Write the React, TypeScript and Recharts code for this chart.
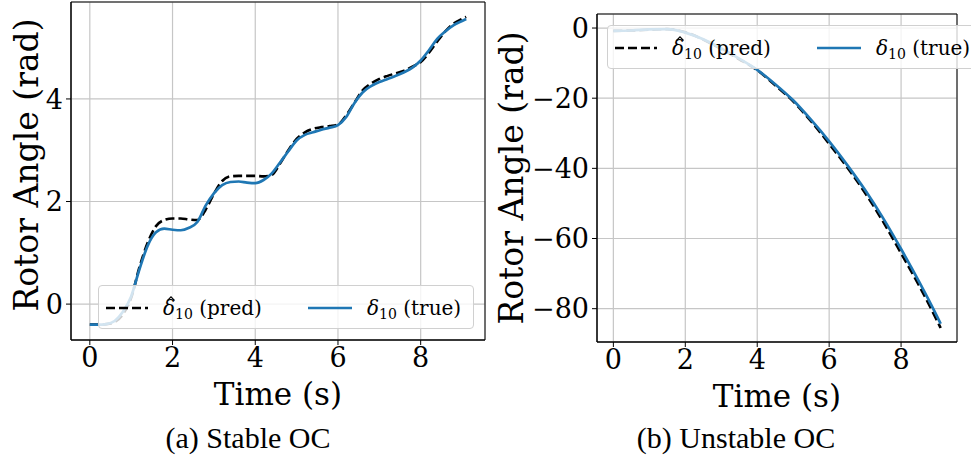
import React from "react";
import {
  CartesianGrid,
  Label,
  Legend,
  Line,
  LineChart,
  ReferenceArea,
  XAxis,
  YAxis,
} from "recharts";

// (a) stable operating condition
const stableTime = [
  0, 0.2, 0.4, 0.6, 0.8, 1.0, 1.2, 1.4, 1.6, 1.8, 2.0, 2.2, 2.4, 2.6, 2.8, 3.0,
  3.2, 3.4, 3.6, 3.8, 4.0, 4.2, 4.4, 4.6, 4.8, 5.0, 5.2, 5.4, 5.6, 5.8, 6.0,
  6.2, 6.4, 6.6, 6.8, 7.0, 7.2, 7.4, 7.6, 7.8, 8.0, 8.2, 8.4, 8.6, 8.8, 9.0, 9.1,
];
const stablePred = [
  -0.4, -0.4, -0.39, -0.35, -0.2, 0.12, 0.72, 1.2, 1.52, 1.64, 1.67, 1.67, 1.65,
  1.64, 1.84, 2.15, 2.4, 2.49, 2.5, 2.5, 2.5, 2.49, 2.52, 2.74, 3.0, 3.22, 3.35,
  3.42, 3.45, 3.47, 3.5, 3.68, 3.93, 4.17, 4.3, 4.39, 4.45, 4.5, 4.55, 4.63,
  4.72, 4.9, 5.12, 5.32, 5.47, 5.56, 5.6,
];
const stableTrue = [
  -0.4, -0.4, -0.39, -0.33, -0.15, 0.15, 0.68, 1.14, 1.4, 1.47, 1.45, 1.44,
  1.49, 1.6, 1.92, 2.16, 2.32, 2.38, 2.39, 2.37, 2.36, 2.42, 2.55, 2.76, 2.98,
  3.19, 3.3, 3.35, 3.4, 3.44, 3.49, 3.65, 3.92, 4.13, 4.25, 4.33, 4.39, 4.45,
  4.52, 4.61, 4.75, 4.95, 5.17, 5.32, 5.44, 5.52, 5.56,
];

// (b) unstable operating condition
const unstableTime = [
  0, 0.5, 1.0, 1.5, 2.0, 2.5, 3.0, 3.5, 4.0, 4.5, 5.0, 5.5, 6.0, 6.5, 7.0, 7.5,
  8.0, 8.5, 9.0, 9.1,
];
const unstablePred = [
  -0.8, -0.7, -0.5, -0.3, -1.2, -3.3, -6.0, -8.9, -12.0, -16.3, -20.9, -26.6,
  -33.0, -39.7, -47.0, -55.2, -64.2, -73.4, -83.4, -85.5,
];
const unstableTrue = [
  -0.8, -0.7, -0.4, -0.3, -1.3, -3.2, -5.8, -8.7, -11.9, -16.0, -20.6, -26.2,
  -32.3, -39.0, -46.2, -54.2, -63.0, -72.3, -82.2, -84.3,
];

const xTicks = [0, 2, 4, 6, 8];
const stableYTicks = [0, 2, 4];
const unstableYTicks = [-80, -60, -40, -20, 0];

const FONT = "'DejaVu Serif', serif";
const BLUE = "#1f77b4";

const fmt = (v: number) => (v < 0 ? `\u2212${Math.abs(v)}` : `${v}`);

function buildRows(t: number[], pred: number[], truth: number[]) {
  return t.map((time, i) => ({ t: time, pred: pred[i], truth: truth[i] }));
}

// hat drawn as a small svg stroke so it stays a mark, not a second text
function Hat() {
  return (
    <svg
      width={8}
      height={5}
      style={{ position: "absolute", left: 4, top: 10 }}
    >
      <polyline points="0.5,4.5 4,0.8 7.5,4.5" fill="none" stroke="#000" strokeWidth={1.1} />
    </svg>
  );
}

function LegendBox() {
  const text: React.CSSProperties = {
    position: "absolute",
    top: 0,
    height: 44,
    lineHeight: "44px",
    fontFamily: FONT,
    fontSize: 20,
    color: "#000",
    whiteSpace: "nowrap",
  };
  const sub: React.CSSProperties = { fontSize: 14, verticalAlign: -4, fontStyle: "normal" };
  return (
    <div
      style={{
        position: "relative",
        width: 376,
        height: 44,
        boxSizing: "border-box",
        border: "1px solid #d0d0d0",
        borderRadius: 4,
        background: "rgba(255,255,255,0.8)",
      }}
    >
      <svg width={42} height={6} style={{ position: "absolute", left: 7, top: 19 }}>
        <line x1={0} y1={3} x2={42} y2={3} stroke="#000" strokeWidth={2.6} strokeDasharray="9 4" />
      </svg>
      <span style={{ ...text, left: 64 }}>
        <span style={{ position: "relative", display: "inline-block" }}>
          <i>{"\u03b4"}</i>
          <Hat />
        </span>
        <span style={sub}>10</span> (pred)
      </span>
      <svg width={44} height={6} style={{ position: "absolute", left: 209, top: 19 }}>
        <line x1={0} y1={3} x2={44} y2={3} stroke={BLUE} strokeWidth={2.6} />
      </svg>
      <span style={{ ...text, left: 268 }}>
        <i>{"\u03b4"}</i>
        <span style={sub}>10</span> (true)
      </span>
    </div>
  );
}

interface PanelProps {
  rows: { t: number; pred: number; truth: number }[];
  yDomain: [number, number];
  yTicks: number[];
  width: number;
  height: number;
  margin: { top: number; right: number; bottom: number; left: number };
  yAxisWidth: number;
  xAxisHeight: number;
  yLabelX: number;
  yLabelShift: number;
  legendPos: { left: number; top: number };
}

const xDomain: [number, number] = [-0.455, 9.555];

function Panel(p: PanelProps) {
  const tick = { fill: "#000", fontSize: 27, fontFamily: FONT };
  return (
    <LineChart width={p.width} height={p.height} data={p.rows} margin={p.margin}>
      <CartesianGrid stroke="#c6c6c6" strokeWidth={1.2} />
      <XAxis
        type="number"
        dataKey="t"
        domain={xDomain}
        ticks={xTicks}
        allowDataOverflow
        height={p.xAxisHeight}
        tick={tick}
        tickSize={5}
        tickMargin={3}
        axisLine={{ stroke: "#000" }}
        tickLine={{ stroke: "#000" }}
      >
        <Label
          content={(props: any) => {
            const vb = props.viewBox;
            return (
              <text
                x={vb.x + vb.width / 2}
                y={vb.y + 65}
                textAnchor="middle"
                fontFamily={FONT}
                fontSize={31}
                fill="#000"
              >
                Time (s)
              </text>
            );
          }}
        />
      </XAxis>
      <YAxis
        type="number"
        domain={p.yDomain}
        ticks={p.yTicks}
        allowDataOverflow
        width={p.yAxisWidth}
        tick={tick}
        tickFormatter={fmt}
        tickSize={5}
        tickMargin={3}
        axisLine={{ stroke: "#000" }}
        tickLine={{ stroke: "#000" }}
      >
        <Label
          content={(props: any) => {
            const vb = props.viewBox;
            const cy = vb.y + vb.height / 2 + p.yLabelShift;
            const cx = p.yLabelX;
            return (
              <text
                x={cx}
                y={cy}
                transform={`rotate(-90 ${cx} ${cy})`}
                textAnchor="middle"
                dominantBaseline="central"
                fontFamily={FONT}
                fontSize={33}
                fill="#000"
              >
                Rotor Angle (rad)
              </text>
            );
          }}
        />
      </YAxis>
      <ReferenceArea
        x1={xDomain[0]}
        x2={xDomain[1]}
        y1={p.yDomain[0]}
        y2={p.yDomain[1]}
        fill="none"
        stroke="#000"
        strokeWidth={1}
        ifOverflow="visible"
      />
      <Line
        type="monotone"
        dataKey="pred"
        stroke="#000"
        strokeWidth={2.6}
        strokeDasharray="9 4"
        dot={false}
        isAnimationActive={false}
      />
      <Line
        type="monotone"
        dataKey="truth"
        stroke={BLUE}
        strokeWidth={2.7}
        dot={false}
        isAnimationActive={false}
      />
      <Legend
        layout="horizontal"
        verticalAlign="middle"
        align="center"
        content={() => <LegendBox />}
        wrapperStyle={{ left: p.legendPos.left, top: p.legendPos.top, width: 376, height: 44 }}
      />
    </LineChart>
  );
}

const captionStyle: React.CSSProperties = {
  position: "absolute",
  top: 420,
  width: 300,
  textAlign: "center",
  fontFamily: "'Liberation Serif', 'Times New Roman', serif",
  fontSize: 30,
  lineHeight: "36px",
  color: "#000",
};

export default function App() {
  return (
    <div
      style={{
        position: "absolute",
        left: 0,
        top: 0,
        width: 971,
        height: 459,
        background: "#fff",
        overflow: "hidden",
      }}
    >
      <div style={{ position: "absolute", left: 0, top: 0 }}>
        <Panel
          rows={buildRows(stableTime, stablePred, stableTrue)}
          yDomain={[-0.7, 5.89]}
          yTicks={stableYTicks}
          width={490}
          height={420}
          margin={{ top: 2, right: 5, bottom: 0, left: 0 }}
          yAxisWidth={71}
          xAxisHeight={80}
          yLabelX={26}
          yLabelShift={-6}
          legendPos={{ left: 98, top: 285 }}
        />
      </div>
      <div style={{ position: "absolute", left: 490, top: 0 }}>
        <Panel
          rows={buildRows(unstableTime, unstablePred, unstableTrue)}
          yDomain={[-89.5, 4.0]}
          yTicks={unstableYTicks}
          width={481}
          height={420}
          margin={{ top: 14, right: 14, bottom: 0, left: 0 }}
          yAxisWidth={107}
          xAxisHeight={78}
          yLabelX={21}
          yLabelShift={0}
          legendPos={{ left: 117, top: 25 }}
        />
      </div>
      <div style={{ ...captionStyle, left: 98 }}>(a) Stable OC</div>
      <div style={{ ...captionStyle, left: 586 }}>(b) Unstable OC</div>
    </div>
  );
}
